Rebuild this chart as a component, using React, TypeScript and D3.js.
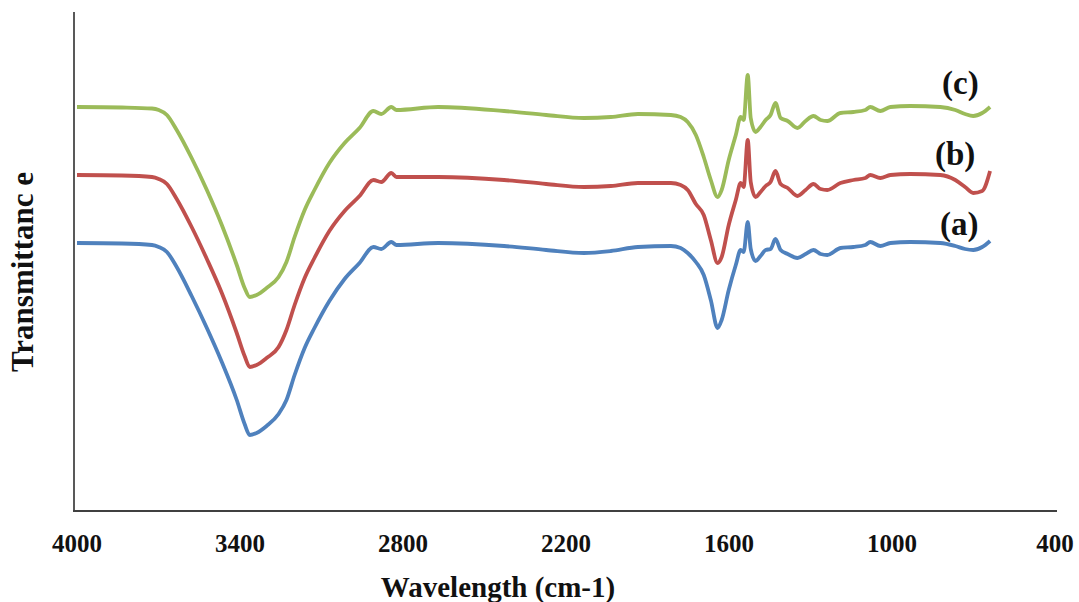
import * as d3 from "d3";
import { useEffect, useRef } from "react";

// wavenumbers (cm-1) shared by the three spectra
const wavenumbers = [
  4000, 3835, 3724, 3699, 3669, 3633, 3578, 3522, 3467, 3412, 3383, 3364, 3339,
  3302, 3258, 3229, 3199, 3162, 3126, 3071, 3015, 2960, 2909, 2880, 2843, 2824,
  2670, 2428, 2273, 2134, 2035, 1935, 1814, 1778, 1752, 1722, 1693, 1667, 1642,
  1627, 1601, 1575, 1557, 1546, 1531, 1520, 1502, 1484, 1465, 1447, 1429, 1410,
  1384, 1348, 1318, 1289, 1263, 1238, 1190, 1142, 1098, 1080, 1043, 1006, 933,
  822, 767, 731, 701, 668, 639,
];

// transmittance (arbitrary offset units)
const seriesA = [
  53.6, 53.5, 53.2, 52.8, 51.8, 48.8, 43.0, 36.6, 29.8, 22.2, 17.4, 15.2, 15.6,
  17.0, 19.4, 22.2, 27.2, 32.6, 36.6, 42.0, 46.4, 49.6, 52.8, 52.4, 53.8, 53.2,
  53.6, 53.0, 52.2, 51.6, 52.0, 52.8, 53.0, 52.6, 51.6, 49.8, 47.2, 42.2, 36.6,
  38.2, 44.2, 49.2, 52.2, 51.8, 57.8, 52.4, 50.0, 51.0, 52.2, 52.4, 54.4, 52.2,
  51.4, 50.6, 51.4, 52.2, 51.4, 51.2, 52.6, 52.8, 53.2, 53.8, 53.0, 53.6, 53.8,
  53.6, 53.0, 52.4, 52.2, 52.8, 54.0,
];
const seriesB = [
  67.2, 67.1, 66.8, 66.4, 65.4, 62.4, 56.8, 50.4, 43.6, 35.6, 31.0, 28.8, 29.2,
  30.6, 32.8, 36.2, 41.2, 46.6, 50.6, 56.0, 60.0, 63.0, 66.2, 65.8, 67.6, 66.8,
  66.8, 66.2, 65.4, 64.8, 65.0, 65.6, 65.6, 65.2, 64.2, 61.4, 59.2, 54.2, 49.6,
  50.8, 57.2, 62.2, 65.6, 64.8, 74.2, 65.8, 62.8, 63.8, 65.0, 65.8, 68.0, 65.4,
  64.6, 63.0, 64.2, 65.4, 64.4, 64.2, 65.6, 66.2, 66.6, 67.2, 66.6, 67.2, 67.4,
  67.2, 66.2, 64.8, 63.6, 64.0, 68.0,
];
const seriesC = [
  80.8, 80.7, 80.5, 80.2, 79.2, 76.2, 70.6, 64.2, 57.2, 49.2, 44.6, 42.8, 43.2,
  44.6, 46.8, 49.8, 54.8, 60.2, 64.2, 69.6, 73.6, 76.6, 80.0, 79.4, 80.8, 80.2,
  80.8, 80.0, 79.2, 78.6, 78.8, 79.4, 79.2, 78.8, 77.8, 75.2, 70.8, 66.2, 62.8,
  64.2, 70.2, 75.2, 78.8, 78.2, 87.2, 78.6, 75.8, 76.8, 78.2, 79.2, 81.6, 78.6,
  78.0, 76.6, 78.0, 79.0, 78.2, 78.0, 79.6, 79.8, 80.2, 80.8, 80.0, 80.8, 81.0,
  80.8, 80.2, 79.4, 79.0, 79.6, 80.8,
];

const seriesNames = ["(a)", "(b)", "(c)"];
const seriesColors = ["#4F81BD", "#C0504D", "#9BBB59"];
const xTicks = [4000, 3400, 2800, 2200, 1600, 1000, 400];

const W = 1079;
const H = 602;
const font = "'Liberation Serif', 'Times New Roman', serif";

const App = () => {
  const ref = useRef<SVGSVGElement>(null);

  useEffect(() => {
    const svg = d3.select(ref.current);
    svg.selectAll("*").remove();

    const x = d3.scaleLinear().domain([4000, 400]).range([77, 1055]);
    const y = d3.scaleLinear().domain([0, 100]).range([511, 11]);

    // axes lines
    svg
      .append("line")
      .attr("x1", 74)
      .attr("x2", 74)
      .attr("y1", 12)
      .attr("y2", 511)
      .attr("stroke", "#222")
      .attr("stroke-width", 1.5);
    svg
      .append("line")
      .attr("x1", 73)
      .attr("x2", 1057)
      .attr("y1", 511)
      .attr("y2", 511)
      .attr("stroke", "#404040")
      .attr("stroke-width", 2);

    // tick labels
    svg
      .append("g")
      .selectAll("text")
      .data(xTicks)
      .join("text")
      .attr("x", (d) => x(d))
      .attr("y", 552)
      .attr("text-anchor", "middle")
      .attr("font-family", font)
      .attr("font-weight", "bold")
      .attr("font-size", 25)
      .attr("fill", "#111")
      .text((d) => d);

    // axis titles
    svg
      .append("text")
      .attr("x", 498)
      .attr("y", 597)
      .attr("text-anchor", "middle")
      .attr("font-family", font)
      .attr("font-weight", "bold")
      .attr("font-size", 29)
      .attr("fill", "#111")
      .text("Wavelength (cm-1)");
    svg
      .append("text")
      .attr("transform", "translate(33,272) rotate(-90)")
      .attr("text-anchor", "middle")
      .attr("font-family", font)
      .attr("font-weight", "bold")
      .attr("font-size", 31)
      .attr("fill", "#111")
      .text("Transmittanc e");

    // spectra
    const allSeries = [seriesA, seriesB, seriesC];
    const line = d3
      .line<number>()
      .x((_, i) => x(wavenumbers[i]))
      .y((d) => y(d))
      .curve(d3.curveMonotoneX);

    svg
      .append("g")
      .selectAll("path")
      .data(allSeries)
      .join("path")
      .attr("d", (d) => line(d))
      .attr("fill", "none")
      .attr("stroke", (_, i) => seriesColors[i])
      .attr("stroke-width", 3.8)
      .attr("stroke-linejoin", "round");

    // series labels
    const labelPos = [
      { x: 940, y: 235 },
      { x: 935, y: 165 },
      { x: 942, y: 94 },
    ];
    svg
      .append("g")
      .selectAll("text")
      .data(seriesNames)
      .join("text")
      .attr("x", (_, i) => labelPos[i].x)
      .attr("y", (_, i) => labelPos[i].y)
      .attr("font-family", font)
      .attr("font-weight", "bold")
      .attr("font-size", 33)
      .attr("fill", "#111")
      .text((d) => d);
  }, []);

  return (
    <svg
      ref={ref}
      width={W}
      height={H}
      style={{ position: "absolute", left: 0, top: 0, background: "#fff" }}
    />
  );
};

export default App;
